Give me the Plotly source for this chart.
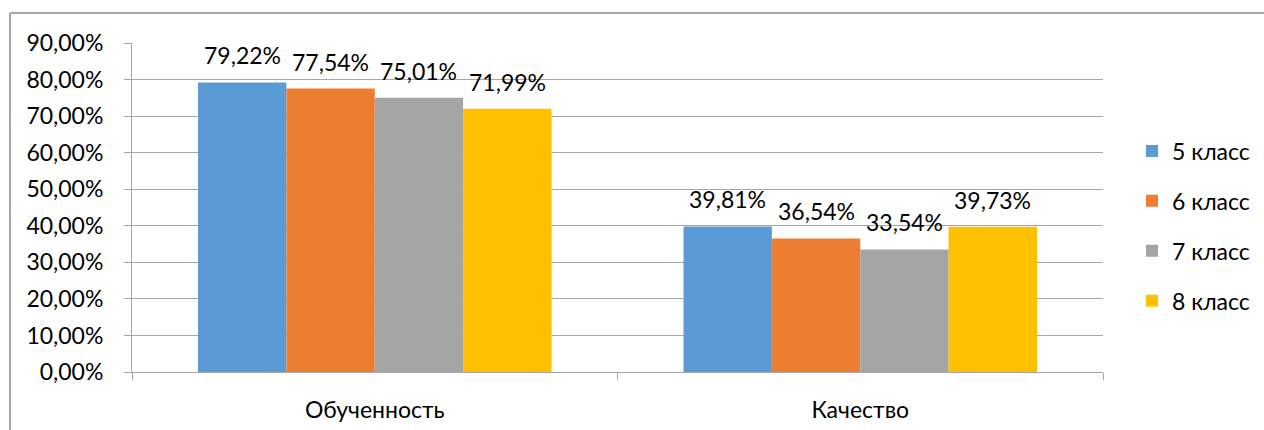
import plotly.graph_objects as go

categories = ["Обученность", "Качество"]
series_names = ["5 класс", "6 класс", "7 класс", "8 класс"]
values_5 = [0.7922, 0.3981]
values_6 = [0.7754, 0.3654]
values_7 = [0.7501, 0.3354]
values_8 = [0.7199, 0.3973]
colors = ["#5B9BD5", "#ED7D31", "#A5A5A5", "#FFC000"]
y_ticks = [0, 0.1, 0.2, 0.3, 0.4, 0.5, 0.6, 0.7, 0.8, 0.9]

FONT = "Lato"
FS = 23
BARGAP = 0.272
all_vals = [values_5, values_6, values_7, values_8]

fig = go.Figure()
for i, (name, vals) in enumerate(zip(series_names, all_vals)):
    fig.add_trace(go.Bar(
        x=categories, y=vals, name=name, marker_color=colors[i],
        marker_line_width=0, legendgroup=name,
    ))

# data labels as annotations above each bar
bw = (1 - BARGAP) / len(all_vals)
for j, vals in enumerate(all_vals):
    for i, v in enumerate(vals):
        fig.add_annotation(
            x=i + (j - (len(all_vals) - 1) / 2) * bw, y=v, xref="x", yref="y",
            text=f"{v*100:.2f}%".replace(".", ","), showarrow=False,
            yanchor="bottom", yshift=11,
            font=dict(family=FONT, size=FS, color="#000000"),
        )

W, H = 1264, 430
L, R, T, B = 132, 161, 43, 58
pw, ph = W - L - R, H - T - B

def px(x):
    return (x - L) / pw

def py(y):
    return 1 - (y - T) / ph

fig.update_layout(
    width=W, height=H,
    margin=dict(l=L, r=R, t=T, b=B, autoexpand=False),
    paper_bgcolor="white", plot_bgcolor="white",
    barmode="group", bargap=BARGAP, bargroupgap=0,
    separators=", ",
    font=dict(family=FONT, size=FS, color="#000000"),
    showlegend=True,
    modebar=dict(bgcolor="rgba(0,0,0,0)", color="rgba(0,0,0,0)",
                 activecolor="rgba(0,0,0,0)"),
    legend=dict(x=px(1132), xanchor="left", y=py(226), yanchor="middle",
                font=dict(family=FONT, size=FS, color="#000000"),
                tracegroupgap=17, itemwidth=30, bgcolor="rgba(0,0,0,0)"),
    xaxis=dict(showline=True, linecolor="#A6A6A6", linewidth=1,
               ticks="outside", tickson="boundaries", ticklen=7, tickcolor="#A6A6A6",
               tickfont=dict(family=FONT, size=FS, color="#000000"),
               ticklabelstandoff=17, showgrid=False, automargin=False),
    yaxis=dict(range=[0, 0.9], tickvals=y_ticks, tickformat=".2%",
               showgrid=True, gridcolor="#A6A6A6", gridwidth=1,
               showline=True, linecolor="#A6A6A6", linewidth=1,
               ticks="outside", ticklen=7, tickcolor="#A6A6A6",
               tickfont=dict(family=FONT, size=FS, color="#000000"),
               ticklabelstandoff=16, zeroline=False, automargin=False),
)

# chart-area border (left and top visible)
fig.add_shape(type="line", xref="paper", yref="paper",
              x0=px(10), y0=py(13), x1=px(1264), y1=py(13),
              line=dict(color="#A6A6A6", width=2))
fig.add_shape(type="line", xref="paper", yref="paper",
              x0=px(10), y0=py(13), x1=px(10), y1=py(430),
              line=dict(color="#A6A6A6", width=2))

fig.write_html(
    "out.html",
    post_script=("document.documentElement.style.margin='0';"
                 "document.documentElement.style.overflow='hidden';"
                 "document.body.style.margin='0';"
                 "document.body.style.overflow='hidden';"
                 "document.querySelectorAll('.modebar').forEach(function(e){e.style.display='none';});"),
)
